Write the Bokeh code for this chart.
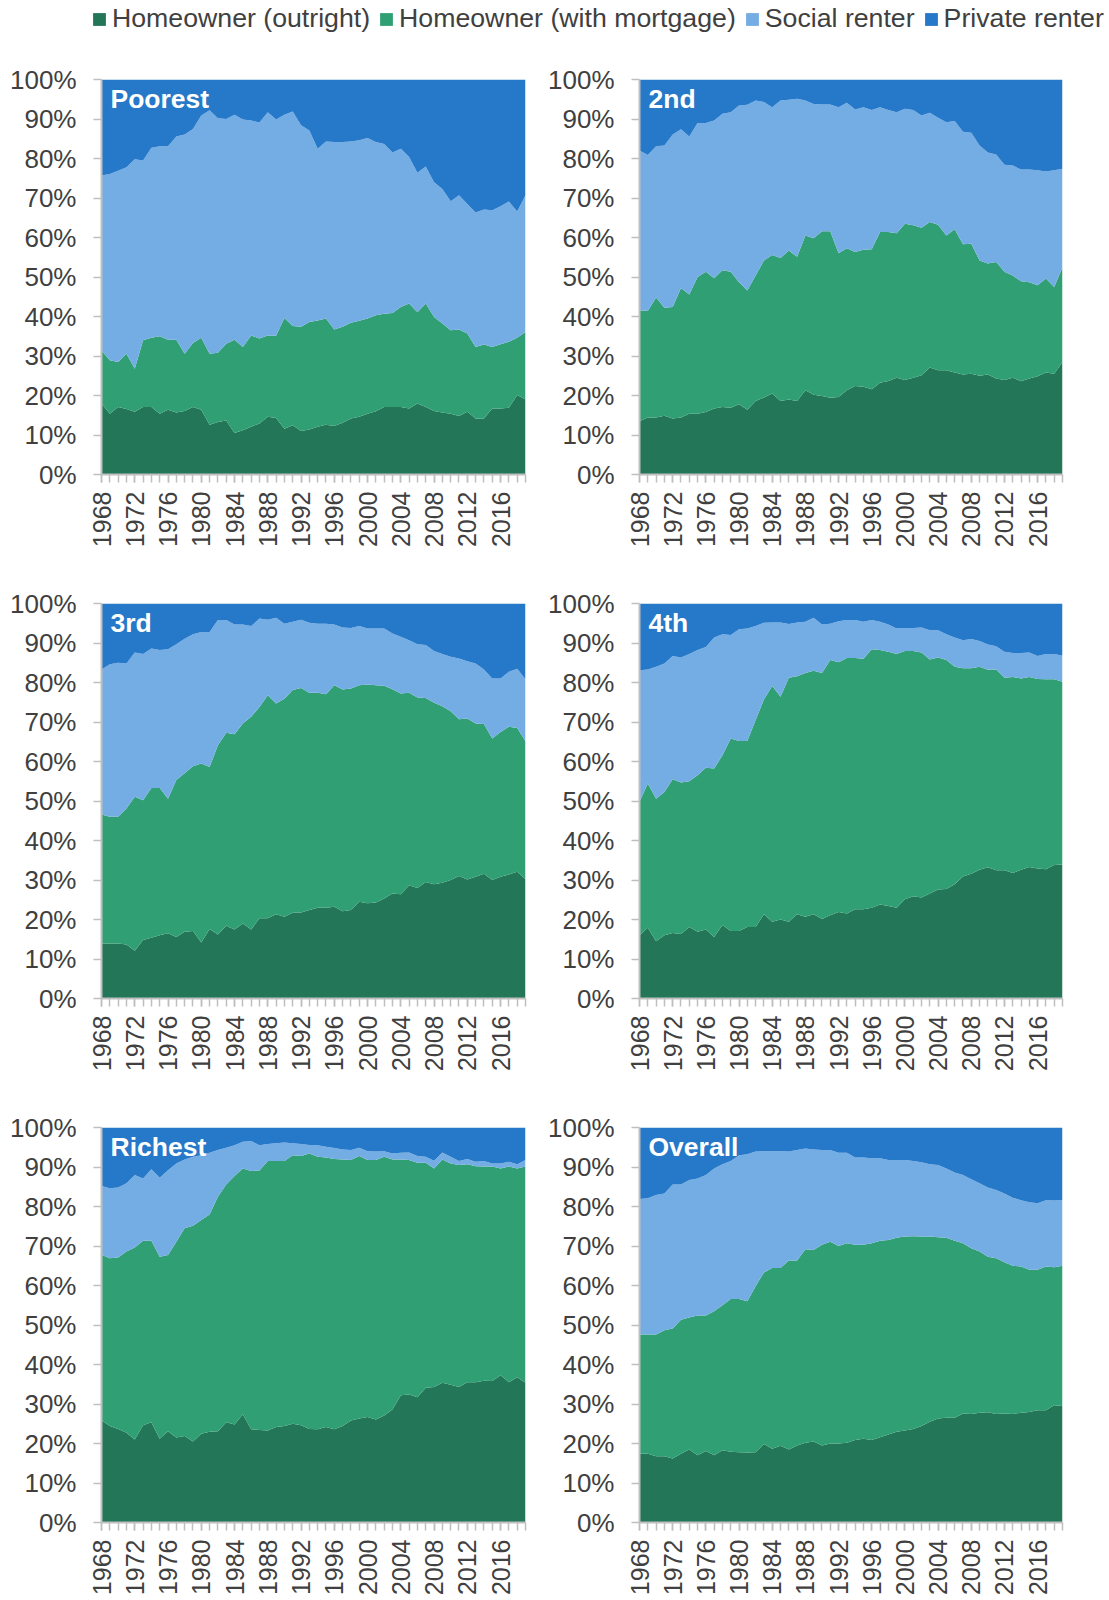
import math
from bokeh.plotting import figure
from bokeh.models import (ColumnDataSource, Range1d, FixedTicker, PrintfTickFormatter,
                          Label, Legend, LegendItem)
from bokeh.layouts import column, row
from bokeh.embed import file_html
from bokeh.resources import INLINE

# ---------------- data ----------------
YEARS = list(range(1968, 2020))
TICK_YEARS = [1968, 1972, 1976, 1980, 1984, 1988, 1992, 1996, 2000, 2004, 2008, 2012, 2016]
Y_TICKS = [0, 10, 20, 30, 40, 50, 60, 70, 80, 90, 100]

SERIES = ["Homeowner (outright)", "Homeowner (with mortgage)", "Social renter", "Private renter"]
COLORS = ["#237758", "#30A074", "#74ADE3", "#2678C8"]

POOREST_OUTRIGHT = [18.0, 15.4, 17.1, 16.6, 15.9, 17.1, 17.1, 15.4, 16.4, 15.7, 16.1, 17.1, 16.4, 12.6, 13.3, 13.7, 10.5, 11.2, 12.1, 12.9, 14.6, 14.3, 11.6, 12.5, 11.0, 11.4, 12.1, 12.6, 12.3, 13.1, 14.2, 14.6, 15.4, 16.0, 17.1, 17.1, 17.1, 16.7, 18.0, 17.1, 16.1, 15.7, 15.4, 14.8, 15.9, 14.2, 14.2, 16.7, 16.7, 16.9, 20.1, 19.0]
POOREST_MORTGAGE = [13.4, 13.5, 11.4, 14.0, 10.9, 16.9, 17.5, 19.6, 17.7, 18.4, 14.5, 16.2, 18.2, 18.0, 17.5, 19.4, 23.6, 21.1, 23.1, 21.5, 20.6, 20.8, 28.0, 25.1, 26.4, 27.2, 26.9, 26.9, 24.4, 24.3, 24.2, 24.3, 24.1, 24.3, 23.6, 23.8, 25.3, 26.6, 23.1, 26.2, 23.8, 22.5, 21.1, 21.9, 19.8, 18.1, 18.7, 15.6, 16.3, 16.7, 14.5, 17.1]
POOREST_SOCIAL = [44.3, 47.2, 48.4, 47.2, 53.0, 45.5, 48.1, 48.1, 49.0, 51.5, 55.5, 54.2, 56.3, 61.6, 59.4, 56.9, 57.0, 57.6, 54.4, 54.7, 56.5, 54.8, 51.5, 54.3, 51.0, 48.5, 43.5, 44.8, 47.5, 46.8, 45.9, 45.7, 45.7, 43.9, 43.0, 40.6, 40.1, 37.1, 35.3, 34.7, 34.1, 34.1, 32.7, 34.0, 32.8, 34.0, 34.2, 34.6, 34.9, 35.5, 32.0, 34.6]
POOREST_PRIVATE = [24.3, 23.9, 23.1, 22.2, 20.2, 20.5, 17.3, 16.9, 16.9, 14.4, 13.9, 12.5, 9.1, 7.8, 9.8, 10.0, 8.9, 10.1, 10.4, 10.9, 8.3, 10.1, 8.9, 8.1, 11.6, 12.9, 17.5, 15.7, 15.8, 15.8, 15.7, 15.4, 14.8, 15.8, 16.3, 18.5, 17.5, 19.6, 23.6, 22.0, 26.0, 27.7, 30.8, 29.3, 31.5, 33.7, 32.9, 33.1, 32.1, 30.9, 33.4, 29.3]

SECOND_OUTRIGHT = [13.5, 14.4, 14.4, 14.9, 14.2, 14.4, 15.4, 15.4, 15.8, 16.7, 17.1, 16.9, 17.8, 16.4, 18.6, 19.5, 20.5, 18.6, 19.0, 18.6, 21.3, 20.2, 19.9, 19.4, 19.6, 21.3, 22.4, 22.2, 21.6, 23.2, 23.7, 24.5, 23.9, 24.5, 25.1, 27.1, 26.4, 26.4, 25.8, 25.3, 25.5, 25.0, 25.3, 24.3, 23.9, 24.5, 23.6, 24.3, 24.9, 25.8, 25.5, 28.5]
SECOND_MORTGAGE = [28.1, 27.0, 30.4, 27.3, 28.2, 32.8, 30.2, 34.6, 35.5, 33.0, 34.6, 34.4, 30.9, 30.2, 31.8, 34.7, 35.1, 36.2, 37.7, 36.5, 39.2, 39.6, 41.7, 42.2, 36.4, 36.0, 33.9, 34.7, 35.4, 38.2, 37.7, 36.6, 39.6, 38.6, 37.4, 36.8, 36.8, 34.1, 36.3, 33.0, 32.9, 29.2, 28.1, 29.5, 27.4, 25.9, 25.3, 24.4, 23.0, 23.8, 22.0, 24.0]
SECOND_SOCIAL = [40.4, 39.5, 38.3, 41.1, 43.7, 40.2, 40.0, 39.0, 37.7, 39.9, 39.6, 40.4, 44.7, 47.0, 44.3, 40.1, 37.4, 39.9, 38.2, 40.0, 34.2, 34.0, 32.1, 32.1, 37.0, 36.8, 36.1, 36.1, 35.3, 31.6, 30.9, 30.6, 29.1, 29.2, 28.4, 27.7, 27.1, 28.7, 27.4, 28.5, 28.1, 29.1, 28.1, 27.2, 27.1, 27.8, 28.3, 28.5, 29.1, 27.1, 29.5, 24.9]
SECOND_PRIVATE = [18.0, 19.1, 16.9, 16.7, 13.9, 12.6, 14.4, 11.0, 11.0, 10.4, 8.7, 8.3, 6.6, 6.4, 5.3, 5.7, 7.0, 5.3, 5.1, 4.9, 5.3, 6.2, 6.3, 6.3, 7.0, 5.9, 7.6, 7.0, 7.7, 7.0, 7.7, 8.3, 7.4, 7.7, 9.1, 8.4, 9.7, 10.8, 10.5, 13.2, 13.5, 16.7, 18.5, 19.0, 21.6, 21.8, 22.8, 22.8, 23.0, 23.3, 23.0, 22.6]

THIRD_OUTRIGHT = [13.9, 13.9, 13.9, 13.7, 12.1, 14.8, 15.4, 16.0, 16.5, 15.6, 16.9, 17.1, 14.2, 17.6, 16.2, 18.4, 17.5, 19.0, 17.5, 20.3, 20.3, 21.3, 20.7, 21.7, 21.8, 22.4, 23.0, 23.0, 23.2, 22.1, 22.4, 24.5, 24.1, 24.3, 25.3, 26.6, 26.4, 28.7, 28.0, 29.5, 28.9, 29.3, 30.0, 31.0, 30.1, 30.8, 31.6, 30.0, 30.8, 31.4, 32.1, 30.2]
THIRD_MORTGAGE = [32.7, 32.1, 32.1, 34.4, 39.0, 35.4, 37.9, 37.3, 34.1, 39.7, 40.1, 41.7, 45.3, 41.0, 47.9, 48.9, 49.4, 50.6, 53.8, 53.5, 56.5, 53.4, 55.2, 56.4, 56.8, 55.0, 54.4, 54.0, 56.1, 56.1, 56.1, 54.8, 55.4, 55.0, 53.9, 51.7, 50.8, 48.7, 48.2, 46.6, 46.0, 44.7, 42.7, 39.7, 40.8, 38.8, 37.9, 35.8, 36.7, 37.4, 36.4, 34.9]
THIRD_SOCIAL = [36.7, 38.6, 39.0, 36.7, 36.5, 37.0, 35.3, 34.9, 37.8, 34.4, 34.1, 33.4, 33.3, 34.2, 31.7, 28.5, 27.8, 25.1, 23.0, 22.4, 19.1, 21.7, 19.0, 17.3, 17.3, 17.7, 17.5, 17.9, 15.4, 15.7, 15.3, 15.0, 14.2, 14.4, 14.5, 14.1, 14.4, 13.3, 13.5, 13.4, 13.1, 13.2, 13.8, 15.4, 14.5, 15.2, 13.8, 15.2, 13.5, 13.9, 15.0, 15.7]
THIRD_PRIVATE = [16.7, 15.4, 15.0, 15.2, 12.4, 12.8, 11.4, 11.8, 11.6, 10.3, 8.9, 7.8, 7.2, 7.2, 4.2, 4.2, 5.3, 5.3, 5.7, 3.8, 4.1, 3.6, 5.1, 4.6, 4.1, 4.9, 5.1, 5.1, 5.3, 6.1, 6.2, 5.7, 6.3, 6.3, 6.3, 7.6, 8.4, 9.3, 10.3, 10.5, 12.0, 12.8, 13.5, 13.9, 14.6, 15.2, 16.7, 19.0, 19.0, 17.3, 16.5, 19.2]

FOURTH_OUTRIGHT = [16.0, 17.9, 14.5, 16.0, 16.6, 16.3, 18.1, 16.9, 17.5, 15.6, 18.6, 17.1, 17.1, 18.1, 18.1, 21.3, 19.4, 20.0, 19.4, 21.3, 20.7, 21.3, 20.1, 21.1, 21.9, 21.5, 22.6, 22.6, 23.0, 23.8, 23.4, 23.0, 25.1, 25.9, 25.6, 26.6, 27.6, 27.7, 28.9, 30.9, 31.6, 32.6, 33.2, 32.5, 32.5, 31.8, 32.6, 33.3, 32.9, 32.7, 33.8, 33.9]
FOURTH_MORTGAGE = [33.8, 36.5, 36.1, 36.3, 38.9, 38.4, 36.9, 39.6, 40.9, 42.6, 43.0, 48.7, 48.1, 47.1, 52.4, 54.4, 59.7, 56.4, 61.8, 60.3, 61.7, 61.7, 62.3, 64.6, 63.2, 64.7, 63.6, 63.4, 65.4, 64.4, 64.4, 64.2, 62.9, 62.1, 62.0, 59.2, 58.7, 58.0, 55.1, 52.7, 52.0, 51.4, 50.0, 50.8, 48.7, 49.6, 48.4, 48.1, 48.0, 48.1, 47.0, 46.3]
FOURTH_SOCIAL = [33.3, 28.9, 33.4, 32.5, 31.2, 31.6, 32.2, 31.7, 30.6, 33.2, 30.6, 26.2, 28.3, 28.5, 23.8, 19.4, 16.1, 18.8, 13.6, 13.6, 13.0, 13.4, 12.3, 9.2, 10.4, 9.6, 9.6, 9.4, 7.4, 7.2, 6.9, 6.5, 5.8, 5.8, 6.3, 7.4, 6.9, 6.5, 7.4, 7.1, 7.4, 6.5, 6.4, 5.9, 6.6, 6.1, 6.5, 6.2, 5.8, 6.4, 6.4, 6.6]
FOURTH_PRIVATE = [16.9, 16.7, 16.0, 15.2, 13.3, 13.7, 12.8, 11.8, 11.0, 8.6, 7.8, 8.0, 6.5, 6.3, 5.7, 4.9, 4.8, 4.8, 5.2, 4.8, 4.6, 3.6, 5.3, 5.1, 4.5, 4.2, 4.2, 4.6, 4.2, 4.6, 5.3, 6.3, 6.2, 6.2, 6.1, 6.8, 6.8, 7.8, 8.6, 9.3, 9.0, 9.5, 10.4, 10.8, 12.2, 12.5, 12.5, 12.4, 13.3, 12.8, 12.8, 13.2]

RICHEST_OUTRIGHT = [25.9, 24.4, 23.7, 22.7, 21.0, 24.6, 25.4, 21.2, 23.1, 21.5, 21.9, 20.5, 22.5, 23.0, 23.1, 25.4, 24.8, 27.4, 23.6, 23.4, 23.3, 24.2, 24.4, 25.0, 24.6, 23.7, 23.6, 24.2, 23.6, 24.4, 25.8, 26.3, 26.7, 26.1, 27.1, 28.6, 32.2, 32.4, 31.7, 34.1, 34.3, 35.4, 34.9, 34.3, 35.5, 35.5, 35.9, 35.8, 37.3, 35.5, 36.8, 35.4]
RICHEST_MORTGAGE = [41.9, 42.5, 43.4, 45.9, 48.6, 46.7, 45.9, 46.1, 44.6, 49.6, 52.6, 54.6, 54.1, 55.0, 59.4, 60.2, 62.9, 62.2, 65.4, 65.7, 68.2, 67.3, 67.1, 68.0, 68.2, 69.7, 69.0, 68.2, 68.4, 67.5, 66.0, 66.5, 65.1, 65.7, 65.5, 63.3, 59.7, 59.4, 59.4, 57.0, 55.3, 56.5, 56.0, 56.2, 55.2, 54.7, 54.2, 54.3, 52.3, 54.6, 52.8, 54.7]
RICHEST_SOCIAL = [17.4, 17.7, 17.7, 17.3, 18.4, 15.8, 18.1, 20.0, 21.5, 19.8, 17.4, 17.5, 16.4, 15.6, 11.8, 9.3, 7.8, 6.8, 7.6, 6.4, 4.3, 4.5, 4.7, 3.0, 3.0, 2.2, 2.9, 2.7, 2.8, 2.5, 2.5, 2.1, 2.2, 2.1, 1.4, 1.5, 1.7, 1.9, 1.7, 1.5, 2.0, 1.8, 1.7, 1.0, 1.3, 1.1, 1.4, 0.8, 1.3, 1.2, 1.1, 1.7]
RICHEST_PRIVATE = [14.8, 15.4, 15.2, 14.1, 12.0, 12.9, 10.6, 12.7, 10.8, 9.1, 8.1, 7.4, 7.0, 6.4, 5.7, 5.1, 4.5, 3.6, 3.4, 4.5, 4.2, 4.0, 3.8, 4.0, 4.2, 4.4, 4.5, 4.9, 5.2, 5.6, 5.7, 5.1, 6.0, 6.1, 6.0, 6.6, 6.4, 6.3, 7.2, 7.4, 8.4, 6.3, 7.4, 8.5, 8.0, 8.7, 8.5, 9.1, 9.1, 8.7, 9.3, 8.2]

OVERALL_OUTRIGHT = [17.5, 17.4, 16.8, 16.8, 16.2, 17.4, 18.5, 17.0, 18.1, 17.0, 18.3, 17.9, 17.8, 17.7, 17.8, 19.9, 18.7, 19.4, 18.5, 19.5, 20.2, 20.5, 19.5, 20.0, 20.0, 20.2, 20.9, 21.2, 20.9, 21.6, 22.3, 23.0, 23.3, 23.7, 24.4, 25.5, 26.3, 26.5, 26.5, 27.6, 27.5, 27.8, 27.9, 27.5, 27.6, 27.5, 27.8, 28.0, 28.4, 28.4, 29.7, 29.5]
OVERALL_MORTGAGE = [30.1, 30.2, 30.8, 31.9, 32.9, 33.9, 33.4, 35.4, 34.3, 36.5, 36.7, 38.7, 38.8, 38.3, 42.0, 43.4, 45.7, 45.0, 47.8, 46.8, 49.0, 48.5, 50.8, 51.1, 50.0, 50.5, 49.4, 49.1, 49.8, 49.7, 49.2, 49.1, 49.1, 48.8, 48.0, 46.9, 45.9, 45.6, 44.8, 43.1, 41.9, 40.8, 39.4, 39.4, 38.3, 37.5, 37.0, 36.0, 35.6, 36.4, 34.9, 35.5]
OVERALL_SOCIAL = [34.3, 34.5, 35.3, 34.6, 36.5, 34.3, 34.8, 34.7, 35.6, 36.1, 35.7, 34.9, 36.4, 37.2, 34.1, 30.7, 29.6, 29.6, 27.6, 28.0, 25.5, 25.4, 24.0, 23.2, 23.6, 22.9, 22.1, 22.1, 21.5, 20.9, 20.3, 19.7, 19.4, 19.0, 18.8, 18.3, 18.3, 17.5, 17.3, 17.3, 17.5, 17.3, 17.5, 17.3, 17.4, 17.2, 16.8, 17.1, 16.8, 16.8, 16.9, 16.6]
OVERALL_PRIVATE = [18.1, 17.9, 17.1, 16.7, 14.4, 14.4, 13.3, 12.9, 12.0, 10.4, 9.3, 8.5, 7.0, 6.8, 6.1, 6.0, 6.0, 6.0, 6.1, 5.7, 5.3, 5.6, 5.7, 5.7, 6.4, 6.4, 7.6, 7.6, 7.8, 7.8, 8.2, 8.2, 8.2, 8.5, 8.8, 9.3, 9.5, 10.4, 11.4, 12.0, 13.1, 14.1, 15.2, 15.8, 16.7, 17.8, 18.4, 18.9, 19.2, 18.4, 18.5, 18.4]

PANELS = [
    ("Poorest", POOREST_OUTRIGHT, POOREST_MORTGAGE, POOREST_SOCIAL, POOREST_PRIVATE),
    ("2nd", SECOND_OUTRIGHT, SECOND_MORTGAGE, SECOND_SOCIAL, SECOND_PRIVATE),
    ("3rd", THIRD_OUTRIGHT, THIRD_MORTGAGE, THIRD_SOCIAL, THIRD_PRIVATE),
    ("4th", FOURTH_OUTRIGHT, FOURTH_MORTGAGE, FOURTH_SOCIAL, FOURTH_PRIVATE),
    ("Richest", RICHEST_OUTRIGHT, RICHEST_MORTGAGE, RICHEST_SOCIAL, RICHEST_PRIVATE),
    ("Overall", OVERALL_OUTRIGHT, OVERALL_MORTGAGE, OVERALL_SOCIAL, OVERALL_PRIVATE),
]
for _t, *_arrs in PANELS:
    for _a in _arrs:
        assert len(_a) == len(YEARS), (_t, len(_a))

# ---------------- style ----------------
FONT = "Liberation Sans"
TEXT_COLOR = "#404040"
AXIS_COLOR = "#BFBFBF"
STACK = ["outright", "mortgage", "social", "private"]


def make_source(outright, mortgage, social, private):
    return ColumnDataSource(dict(year=YEARS, outright=outright, mortgage=mortgage,
                                 social=social, private=private))


def make_panel(title, outright, mortgage, social, private, width, height,
               border_left, border_right, border_bottom):
    src = make_source(outright, mortgage, social, private)
    p = figure(width=width, height=height,
               x_range=Range1d(YEARS[0], YEARS[-1]), y_range=Range1d(Y_TICKS[0], Y_TICKS[-1]),
               output_backend="svg", toolbar_location=None,
               min_border_left=border_left, min_border_right=border_right,
               min_border_top=31, min_border_bottom=border_bottom)
    p.varea_stack(stackers=STACK, x="year", color=COLORS, source=src)
    p.outline_line_color = None
    p.xgrid.visible = False
    p.ygrid.visible = False
    p.background_fill_color = "white"
    p.border_fill_color = "white"

    p.xaxis.ticker = FixedTicker(ticks=TICK_YEARS, minor_ticks=YEARS)
    p.xaxis.major_label_orientation = math.pi / 2
    p.xaxis.major_label_standoff = 9
    p.yaxis.ticker = FixedTicker(ticks=Y_TICKS)
    p.yaxis.formatter = PrintfTickFormatter(format="%d%%")
    p.yaxis.major_label_standoff = 17
    p.yaxis.minor_tick_line_color = None
    for ax in (p.xaxis[0], p.yaxis[0]):
        ax.axis_line_color = AXIS_COLOR
        ax.axis_line_width = 2
        ax.major_tick_line_color = AXIS_COLOR
        ax.major_tick_line_width = 1.5
        ax.major_tick_in = 0
        ax.major_tick_out = 8
        ax.minor_tick_in = 0
        ax.minor_tick_out = 8
        ax.major_label_text_font = FONT
        ax.major_label_text_color = TEXT_COLOR
    p.xaxis.major_label_text_font_size = "25px"
    p.yaxis.major_label_text_font_size = "26px"
    p.xaxis.minor_tick_line_color = AXIS_COLOR
    p.xaxis.minor_tick_line_width = 1.5

    p.add_layout(Label(x=YEARS[0], y=Y_TICKS[-1], x_offset=9, y_offset=-19,
                       text=title, text_color="white", text_font=FONT,
                       text_font_style="bold", text_font_size="26.5px",
                       text_baseline="alphabetic"))
    return p


figs = []
for i, (title, o, m, s, pr) in enumerate(PANELS):
    left_col = (i % 2 == 0)
    last_row = (i >= 4)
    figs.append(make_panel(
        title, o, m, s, pr,
        width=545 if left_col else 564,
        height=504 if last_row else 524,
        border_left=101 if left_col else 92,
        border_right=20 if left_col else 47,
        border_bottom=78 if last_row else 98))

# legend strip (its stacked renderers lie outside the visible range; only the legend shows)
leg = figure(width=1109, height=48, x_range=Range1d(0, 1), y_range=Range1d(0, 1),
             output_backend="svg", toolbar_location=None,
             x_axis_location=None, y_axis_location=None, min_border=0)
leg.outline_line_color = None
leg.xgrid.visible = False
leg.ygrid.visible = False
leg_src = make_source(OVERALL_OUTRIGHT, OVERALL_MORTGAGE, OVERALL_SOCIAL, OVERALL_PRIVATE)
leg_renderers = leg.varea_stack(stackers=STACK, x="year", color=COLORS, source=leg_src)
items = [LegendItem(label=name, renderers=[r]) for name, r in zip(SERIES, leg_renderers)]
legend = Legend(items=items, orientation="horizontal", location=(91, 14),
                padding=0, margin=0, spacing=8, label_standoff=5,
                glyph_width=16, glyph_height=16,
                border_line_color=None, background_fill_alpha=0,
                label_text_font=FONT, label_text_font_size="26.7px",
                label_text_color=TEXT_COLOR)
leg.add_layout(legend)

layout = column(leg, row(figs[0], figs[1]), row(figs[2], figs[3]), row(figs[4], figs[5]))

open("out.html", "w").write(file_html(layout, INLINE))
